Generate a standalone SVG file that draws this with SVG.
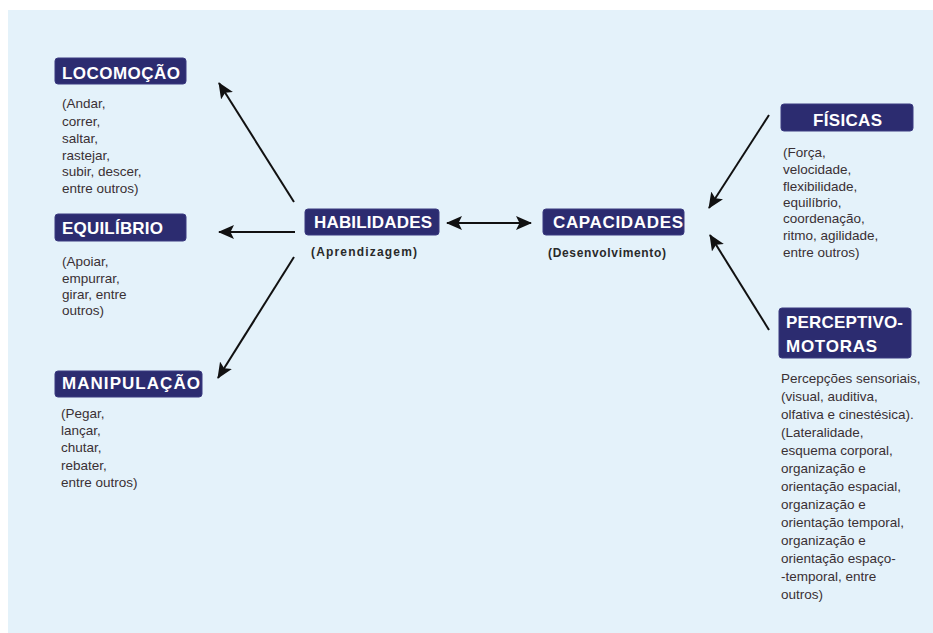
<svg xmlns="http://www.w3.org/2000/svg" width="933" height="633" viewBox="0 0 933 633">
<style>
.box{fill:#2c2c70;stroke:#3a3a80;stroke-width:1}
.lbl{font-family:"Liberation Sans",Arial,sans-serif;font-weight:bold;font-size:17px;fill:#ffffff}
.sub{font-family:"Liberation Sans",Arial,sans-serif;font-size:13.5px;fill:#3a3034}
.sb{font-family:"Liberation Sans",Arial,sans-serif;font-weight:bold;font-size:12px;fill:#2a2a2a}
.con{stroke:#111;stroke-width:2;fill:none}
</style>
<defs>
<marker id="ah" viewBox="0 0 16 14" refX="15" refY="7" markerWidth="16" markerHeight="14" markerUnits="userSpaceOnUse" orient="auto-start-reverse">
<path d="M0,0 L16,7 L0,14 L3.5,7 Z" fill="#111"/>
</marker>
</defs>
<rect x="8" y="10" width="925" height="623" fill="#e4f2fa"/>
<g id="connectors">
<line class="con" x1="294" y1="202" x2="219" y2="83" marker-end="url(#ah)"/>
<line class="con" x1="295" y1="232" x2="219" y2="232" marker-end="url(#ah)"/>
<line class="con" x1="294" y1="257" x2="218" y2="378" marker-end="url(#ah)"/>
<line class="con" x1="447" y1="223" x2="531" y2="223" marker-start="url(#ah)" marker-end="url(#ah)"/>
<line class="con" x1="769" y1="115" x2="709" y2="208" marker-end="url(#ah)"/>
<line class="con" x1="769" y1="330" x2="710" y2="235" marker-end="url(#ah)"/>
</g>
<g id="locomocao">
<rect class="box" x="55" y="58" width="131" height="26" rx="3"/>
<text class="lbl" x="62" y="79" textLength="118" lengthAdjust="spacing">LOCOMOÇÃO</text>
<text class="sub" x="62" y="108">(Andar,</text>
<text class="sub" x="62" y="126">correr,</text>
<text class="sub" x="62" y="143">saltar,</text>
<text class="sub" x="62" y="160">rastejar,</text>
<text class="sub" x="62" y="176">subir, descer,</text>
<text class="sub" x="62" y="193">entre outros)</text>
</g>
<g id="equilibrio">
<rect class="box" x="55" y="214" width="131" height="27" rx="3"/>
<text class="lbl" x="62" y="234" textLength="101" lengthAdjust="spacing">EQUILÍBRIO</text>
<text class="sub" x="62" y="266">(Apoiar,</text>
<text class="sub" x="62" y="283">empurrar,</text>
<text class="sub" x="62" y="299">girar, entre</text>
<text class="sub" x="62" y="315">outros)</text>
</g>
<g id="manipulacao">
<rect class="box" x="55" y="371" width="147" height="26" rx="3"/>
<text class="lbl" x="62" y="389" textLength="138" lengthAdjust="spacing">MANIPULAÇÃO</text>
<text class="sub" x="61" y="418">(Pegar,</text>
<text class="sub" x="61" y="435">lançar,</text>
<text class="sub" x="61" y="452">chutar,</text>
<text class="sub" x="61" y="470">rebater,</text>
<text class="sub" x="61" y="487">entre outros)</text>
</g>
<g id="habilidades">
<rect class="box" x="305" y="209" width="134" height="26" rx="3"/>
<text class="lbl" x="314" y="228" textLength="118" lengthAdjust="spacing">HABILIDADES</text>
<text class="sb" x="311" y="256" textLength="106" lengthAdjust="spacing">(Aprendizagem)</text>
</g>
<g id="capacidades">
<rect class="box" x="543" y="209" width="141" height="26" rx="3"/>
<text class="lbl" x="553" y="228" textLength="130" lengthAdjust="spacing">CAPACIDADES</text>
<text class="sb" x="548" y="257" textLength="118" lengthAdjust="spacing">(Desenvolvimento)</text>
</g>
<g id="fisicas">
<rect class="box" x="781" y="104" width="132" height="27" rx="3"/>
<text class="lbl" x="813" y="126" textLength="69" lengthAdjust="spacing">FÍSICAS</text>
<text class="sub" x="783" y="157">(Força,</text>
<text class="sub" x="783" y="174">velocidade,</text>
<text class="sub" x="783" y="191">flexibilidade,</text>
<text class="sub" x="783" y="207">equilíbrio,</text>
<text class="sub" x="783" y="223">coordenação,</text>
<text class="sub" x="783" y="240">ritmo, agilidade,</text>
<text class="sub" x="783" y="257">entre outros)</text>
</g>
<g id="perceptivo-motoras">
<rect class="box" x="779" y="308" width="132" height="50" rx="3"/>
<text class="lbl" x="786" y="328" textLength="117" lengthAdjust="spacing">PERCEPTIVO-</text>
<text class="lbl" x="786" y="352" textLength="91" lengthAdjust="spacing">MOTORAS</text>
<text class="sub" x="781" y="383">Percepções sensoriais,</text>
<text class="sub" x="781" y="401">(visual, auditiva,</text>
<text class="sub" x="781" y="419">olfativa e cinestésica).</text>
<text class="sub" x="781" y="437">(Lateralidade,</text>
<text class="sub" x="781" y="455">esquema corporal,</text>
<text class="sub" x="781" y="473">organização e</text>
<text class="sub" x="781" y="491">orientação espacial,</text>
<text class="sub" x="781" y="509">organização e</text>
<text class="sub" x="781" y="527">orientação temporal,</text>
<text class="sub" x="781" y="545">organização e</text>
<text class="sub" x="781" y="563">orientação espaço-</text>
<text class="sub" x="781" y="581">-temporal, entre</text>
<text class="sub" x="781" y="599">outros)</text>
</g>
</svg>
